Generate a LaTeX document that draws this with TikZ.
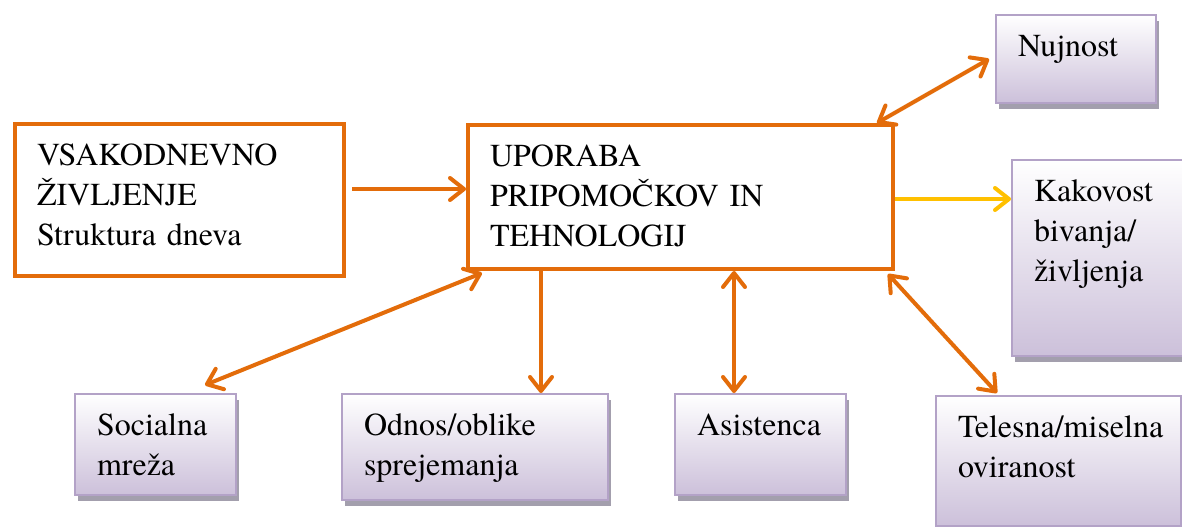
\documentclass[tikz,border=0pt]{standalone}
\usepackage{fontspec}
\setmainfont{TeX Gyre Termes}
\usetikzlibrary{arrows.meta,shadows}

\definecolor{orangeline}{HTML}{E36C0A}
\definecolor{yellowline}{HTML}{FFC000}
\definecolor{lilacline}{HTML}{B3A2C7}
\definecolor{lilacfill}{HTML}{CCC0DA}
\definecolor{shadowgray}{HTML}{A39FAD}

\tikzset{
  txtbox/.style={anchor=north west, inner xsep=11pt, inner ysep=8.5pt, text height=12pt, align=left,
    font=\fontsize{16}{20}\selectfont},
  mainbox/.style={txtbox, draw=orangeline, line width=2pt},
  sidebox/.style={txtbox, draw=lilacline, line width=1pt, top color=white, bottom color=lilacfill,
    drop shadow={shadow xshift=1.5pt, shadow yshift=-3pt, opacity=1, fill=shadowgray}},
  barb/.tip={Straight Barb[length=7pt, width=11pt, round]},
  link/.style={draw=orangeline, line width=2pt, -barb},
  twoway/.style={link, barb-barb}
}

\begin{document}
\begin{tikzpicture}[x=0.5pt, y=-0.5pt]
  \useasboundingbox (0,0) rectangle (1182,526);

  % main boxes
  \node[mainbox, text width=142.5pt, text depth=47pt] (vsak) at (13,122) {VSAKODNEVNO\\ŽIVLJENJE\\Struktura dneva};
  \node[mainbox, text width=190.5pt, text depth=43pt] (upo) at (466,123) {UPORABA\\PRIPOMOČKOV IN\\TEHNOLOGIJ};

  % outer boxes
  \node[sidebox, text width=58pt, text depth=15pt] (nuj) at (995,14) {Nujnost};
  \node[sidebox, text width=67.5pt, text depth=69pt] (kak) at (1011,159) {Kakovost\\bivanja/\\življenja};
  \node[sidebox, text width=58.5pt, text depth=21.5pt] (soc) at (74,393) {Socialna\\mreža};
  \node[sidebox, text width=111pt, text depth=24pt] (odn) at (341,393) {Odnos/oblike\\sprejemanja};
  \node[sidebox, text width=63.5pt, text depth=21.5pt] (asi) at (674,393) {Asistenca};
  \node[sidebox, text width=100.5pt, text depth=36pt] (tel) at (935,395) {Telesna/miselna\\oviranost};

  \draw[link] ([xshift=3pt, yshift=5.5pt]vsak.east) -- ([yshift=5.5pt]vsak.east -| upo.west);
  \draw[twoway] ([xshift=-9pt]upo.north east) -- ([xshift=-3pt]nuj.west);
  \draw[link, draw=yellowline] ([yshift=-1pt]upo.east) -- ([yshift=-1pt]upo.east -| kak.west);
  \draw[twoway] ([xshift=8pt, yshift=-1pt]upo.south west) -- ([xshift=-16pt, yshift=4pt]soc.north east);
  \draw[link] ([xshift=37.5pt]upo.south west) -- ([xshift=37.5pt]upo.south west |- odn.north);
  \draw[twoway] ([xshift=134pt]upo.south west) -- ([xshift=134pt]upo.south west |- asi.north);
  \draw[twoway] ([xshift=-3.5pt, yshift=-1.5pt]upo.south east) -- ([xshift=31pt, yshift=1pt]tel.north west);
\end{tikzpicture}
\end{document}
